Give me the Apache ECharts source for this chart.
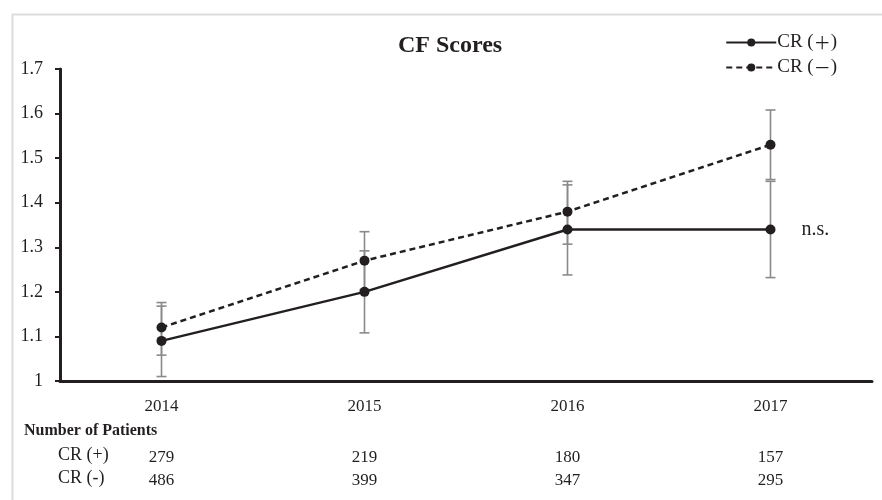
<!DOCTYPE html>
<html>
<head>
<meta charset="utf-8">
<script src="https://cdn.jsdelivr.net/npm/echarts@6/dist/echarts.min.js"></script>
<style>html,body{margin:0;padding:0;background:#fff;}#c{width:882px;height:500px;}</style>
</head>
<body>
<div id="c"></div>
<script>
const years = ['2014', '2015', '2016', '2017'];
const crPos = [1.09, 1.20, 1.34, 1.34];
const crNeg = [1.12, 1.27, 1.38, 1.53];
const crPosLow = [1.01, 1.108, 1.238, 1.232];
const crPosHigh = [1.168, 1.292, 1.44, 1.448];
const crNegLow = [1.058, 1.205, 1.307, 1.452];
const crNegHigh = [1.176, 1.335, 1.448, 1.608];
const nPos = ['279', '219', '180', '157'];
const nNeg = ['486', '399', '347', '295'];
const seriesNames = ['CR (＋)', 'CR (－)'];
const rowNames = ['CR (+)', 'CR (-)'];
const yTicks = { min: 1, max: 1.7, interval: 0.1 };

const FONT = 'Liberation Serif';
const INK = '#231f20';

function errData(low, high) {
  return years.map((y, i) => [i, low[i], high[i]]);
}
function renderErr(params, api) {
  const x = api.value(0);
  const pLo = api.coord([x, api.value(1)]);
  const pHi = api.coord([x, api.value(2)]);
  const w = 5;
  const st = { stroke: '#8a8a8a', lineWidth: 1.6 };
  return {
    type: 'group',
    children: [
      { type: 'line', shape: { x1: pLo[0], y1: pLo[1], x2: pHi[0], y2: pHi[1] }, style: st },
      { type: 'line', shape: { x1: pLo[0] - w, y1: pLo[1], x2: pLo[0] + w, y2: pLo[1] }, style: st },
      { type: 'line', shape: { x1: pHi[0] - w, y1: pHi[1], x2: pHi[0] + w, y2: pHi[1] }, style: st }
    ]
  };
}

const posData = crPos.map((v, i) => i === crPos.length - 1
  ? { value: v, label: { show: true, position: 'right', distance: 26, formatter: 'n.s.', fontFamily: FONT, fontSize: 20, color: INK } }
  : v);

const chart = echarts.init(document.getElementById('c'));
chart.setOption({
  backgroundColor: '#fff',
  animation: false,
  title: {
    text: 'CF Scores', left: 393, top: 29,
    textStyle: { fontFamily: FONT, fontSize: 24, fontWeight: 'bold', color: INK }
  },
  legend: {
    orient: 'vertical', right: 40, top: 28, itemWidth: 50, itemHeight: 10, itemGap: 6,
    formatter: name => '{a|' + name.slice(0, 4) + '}{b|' + name.slice(4, 5) + '}{a|' + name.slice(5) + '}',
    textStyle: {
      padding: [0, 0, 0, -4],
      rich: {
        a: { fontFamily: FONT, fontSize: 19, color: INK },
        b: { fontFamily: 'Noto Sans CJK JP', fontSize: 17, color: INK }
      }
    },
    data: seriesNames
  },
  grid: { left: 60, right: 10, top: 69, bottom: 119 },
  xAxis: [
    {
      type: 'category', data: years, position: 'bottom',
      axisLine: { lineStyle: { color: INK, width: 3 } },
      axisTick: { show: false },
      axisLabel: { fontFamily: FONT, fontSize: 17, color: INK, margin: 17 }
    },
    {
      type: 'category', data: nPos, position: 'bottom', offset: 60,
      axisLine: { show: false }, axisTick: { show: false },
      axisLabel: { fontFamily: FONT, fontSize: 17, color: INK, margin: 8 }
    },
    {
      type: 'category', data: nNeg, position: 'bottom', offset: 83,
      axisLine: { show: false }, axisTick: { show: false },
      axisLabel: { fontFamily: FONT, fontSize: 17, color: INK, margin: 8 }
    }
  ],
  yAxis: {
    type: 'value', min: yTicks.min, max: yTicks.max, interval: yTicks.interval,
    splitLine: { show: false },
    axisLine: { show: true, lineStyle: { color: INK, width: 3 } },
    axisTick: { show: true, length: 5, lineStyle: { color: INK, width: 2 } },
    axisLabel: { fontFamily: FONT, fontSize: 18, color: INK, margin: 17, formatter: v => String(+v.toFixed(1)) }
  },
  series: [
    { type: 'custom', name: 'errPos', renderItem: renderErr, data: errData(crPosLow, crPosHigh), z: 1, silent: true },
    { type: 'custom', name: 'errNeg', renderItem: renderErr, data: errData(crNegLow, crNegHigh), z: 1, silent: true },
    {
      name: seriesNames[0], type: 'line', data: posData, z: 5,
      symbol: 'circle', symbolSize: 10,
      lineStyle: { color: INK, width: 2.5, type: 'solid' },
      itemStyle: { color: INK }
    },
    {
      name: seriesNames[1], type: 'line', data: crNeg, z: 5,
      symbol: 'circle', symbolSize: 10,
      lineStyle: { color: INK, width: 2.5, type: [6, 4] },
      itemStyle: { color: INK }
    }
  ],
  graphic: [
    { type: 'rect', left: 10, top: 12, shape: { width: 900, height: 520 }, style: { fill: null, stroke: '#dcdcdc', lineWidth: 2 }, z: -1 },
    { type: 'text', left: 24, top: 423, style: { text: 'Number of Patients', fontFamily: FONT, fontSize: 16, fontWeight: 'bold', fill: INK } },
    { type: 'text', left: 58, top: 446, style: { text: rowNames[0], fontFamily: FONT, fontSize: 18, fill: INK } },
    { type: 'text', left: 58, top: 469, style: { text: rowNames[1], fontFamily: FONT, fontSize: 18, fill: INK } }
  ]
});
</script>
</body>
</html>
